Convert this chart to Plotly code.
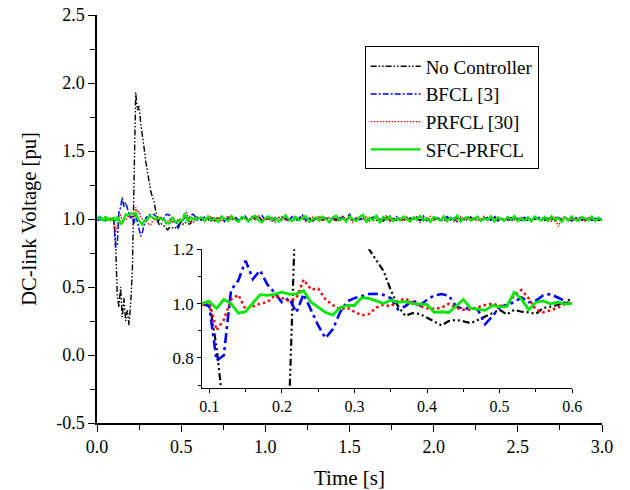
import plotly.graph_objects as go

# ---- time grid (s) ----
time_early = [round(0.01 * i, 2) for i in range(61)]          # 0.00 .. 0.60
time_late = [round(0.62 + 0.02 * i, 2) for i in range(120)]   # 0.62 .. 3.00
time = time_early + time_late

# ---- tick labels ----
y_ticks = [-0.5, 0.0, 0.5, 1.0, 1.5, 2.0, 2.5]
y_ticklabels = ["-0.5", "0.0", "0.5", "1.0", "1.5", "2.0", "2.5"]
x_ticks = [0.0, 0.5, 1.0, 1.5, 2.0, 2.5, 3.0]
x_ticklabels = ["0.0", "0.5", "1.0", "1.5", "2.0", "2.5", "3.0"]
inset_x_ticks = [0.1, 0.2, 0.3, 0.4, 0.5, 0.6]
inset_x_ticklabels = ["0.1", "0.2", "0.3", "0.4", "0.5", "0.6"]
inset_y_ticks = [0.8, 1.0, 1.2]
inset_y_ticklabels = ["0.8", "1.0", "1.2"]

# ---- No Controller ----
nc_pre = [1.0, 1.005, 0.995, 1.01, 0.99, 1.0, 1.008, 0.995, 1.0]
nc_mid = [1.0, 1.008, 0.84, 0.45, 0.35, 0.5, 0.28, 0.42, 0.25, 0.33,
          0.22, 0.38, 0.62, 1.45, 1.93, 1.8, 1.83, 1.7, 1.62, 1.52,
          1.42, 1.34, 1.26, 1.2, 1.16, 1.12, 1.05, 0.99, 0.955, 0.965,
          0.962, 0.948, 0.935, 0.92, 0.936, 0.94, 0.935, 0.928, 0.94, 0.952,
          0.965, 0.977, 0.96, 0.977, 0.97, 0.968, 0.962, 0.984, 0.989, 0.995,
          1.005, 1.02]
nc_late = [0.995, 1.01, 0.99, 1.005, 0.985, 1.012, 1.0, 0.99, 1.008, 0.995,
           1.015, 0.988, 1.0, 1.01, 0.985, 1.005, 0.995, 1.018, 0.99, 1.0,
           1.008, 0.985, 1.0, 1.012, 0.992, 1.005, 0.985, 1.01, 0.998, 0.99,
           1.012, 0.995, 1.005, 0.985, 1.01, 1.0, 0.99, 1.015, 0.995, 1.005,
           0.988, 1.01, 1.0, 0.99, 1.012, 0.985, 1.005, 0.995, 1.01, 0.99,
           1.005, 1.015, 0.99, 1.0, 0.985, 1.01, 0.995, 1.005, 0.99, 1.012,
           1.0, 0.985, 1.008, 0.995, 1.015, 0.99, 1.0, 1.01, 0.988, 1.005,
           0.995, 1.012, 0.99, 1.0, 1.008, 0.985, 1.01, 0.995, 1.005, 0.99,
           1.015, 0.995, 1.0, 0.988, 1.01, 1.0, 0.99, 1.012, 0.995, 1.005,
           0.985, 1.0, 1.01, 0.995, 1.005, 0.99, 1.012, 1.0, 0.985, 1.008,
           0.995, 1.01, 0.99, 1.005, 1.0, 0.985, 1.012, 0.995, 1.005, 0.99,
           1.01, 0.995, 1.0, 1.008, 0.99, 1.005, 0.995, 1.01, 0.99, 1.0]

# ---- BFCL [3] ----
bf_pre = [1.0, 0.99, 1.012, 0.995, 1.01, 0.985, 1.005, 1.0, 0.995]
bf_mid = [1.0, 0.99, 0.79, 0.81, 1.05, 1.085, 1.158, 1.09, 1.122, 1.07,
          1.04, 1.005, 1.02, 0.967, 1.035, 0.98, 0.92, 0.873, 0.905, 0.967,
          1.008, 1.02, 1.028, 1.035, 1.036, 1.032, 1.02, 0.979, 0.99, 1.014,
          0.993, 1.014, 1.03, 1.035, 1.029, 0.99, 0.98, 0.984, 0.978, 0.924,
          0.953, 0.987, 0.996, 1.005, 1.023, 1.005, 1.011, 1.03, 1.035, 1.023,
          1.01, 0.99]
bf_late = [0.99, 1.015, 1.0, 0.985, 1.012, 0.995, 1.02, 0.98, 1.008, 0.995,
           1.018, 0.99, 1.005, 1.022, 0.985, 1.0, 1.012, 0.992, 1.025, 0.988,
           1.005, 0.995, 1.015, 0.982, 1.01, 1.0, 0.99, 1.018, 0.985, 1.005,
           1.03, 0.99, 1.01, 0.985, 1.0, 1.015, 0.992, 1.008, 0.98, 1.012,
           1.0, 0.99, 1.02, 0.995, 1.038, 0.985, 1.005, 0.992, 1.015, 0.98,
           1.008, 0.995, 1.02, 0.99, 1.0, 1.012, 0.985, 1.005, 1.018, 0.99,
           0.995, 1.01, 0.982, 1.015, 1.0, 0.99, 1.022, 0.988, 1.005, 0.995,
           1.012, 0.985, 1.0, 1.018, 0.992, 1.008, 0.98, 1.01, 0.995, 1.02,
           0.99, 1.005, 1.015, 0.985, 1.0, 1.012, 0.99, 1.025, 0.985, 1.005,
           0.995, 1.01, 0.98, 1.015, 1.0, 0.99, 1.012, 0.985, 1.008, 0.995,
           1.02, 0.99, 1.005, 0.985, 1.012, 0.995, 1.018, 0.99, 1.0, 1.01,
           0.985, 1.005, 1.015, 0.99, 1.0, 1.012, 0.988, 1.005, 0.995, 1.0]

# ---- PRFCL [30] ----
pr_pre = [1.0, 1.01, 0.99, 1.005, 0.995, 1.015, 0.985, 1.0, 1.005]
pr_mid = [0.993, 1.008, 0.902, 0.94, 1.015, 1.032, 0.979, 0.99, 1.0, 1.005,
          1.03, 1.02, 1.01, 1.02, 1.088, 1.052, 1.055, 1.016, 0.995, 0.979,
          0.985, 0.97, 0.957, 0.962, 0.985, 0.996, 0.99, 1.01, 1.018, 1.005,
          0.99, 0.983, 0.98, 0.985, 0.999, 0.985, 0.977, 0.977, 0.985, 0.995,
          1.0, 0.992, 0.992, 1.03, 1.05, 1.02, 0.977, 0.968, 0.975, 0.984,
          0.999, 1.005]
pr_late = [1.01, 0.985, 1.005, 1.02, 0.99, 1.012, 0.98, 1.0, 1.025, 0.99,
           1.005, 0.975, 1.015, 1.0, 0.988, 1.02, 0.995, 1.03, 0.985, 1.005,
           0.99, 1.012, 0.978, 1.008, 1.018, 0.99, 1.0, 0.985, 1.022, 0.995,
           1.01, 0.98, 1.005, 1.015, 0.99, 1.025, 0.985, 1.0, 1.012, 0.99,
           1.005, 0.982, 1.018, 0.995, 1.008, 0.975, 1.01, 1.0, 0.99, 1.02,
           0.985, 1.005, 1.015, 0.99, 1.0, 1.028, 0.98, 1.01, 0.995, 1.005,
           0.99, 1.015, 0.985, 1.008, 1.0, 0.975, 1.012, 0.995, 1.02, 0.988,
           1.005, 0.99, 1.015, 0.98, 1.01, 1.0, 0.985, 1.018, 0.995, 1.005,
           0.99, 1.012, 0.985, 1.0, 1.02, 0.99, 1.008, 0.98, 1.015, 0.995,
           1.005, 0.988, 1.012, 1.0, 0.99, 1.018, 0.985, 1.005, 0.995, 1.01,
           1.0, 0.99, 1.015, 1.0, 0.985, 1.012, 0.945, 1.005, 1.02, 0.985,
           1.0, 1.01, 0.99, 1.005, 0.985, 1.015, 0.995, 1.0, 0.99, 1.005]

# ---- SFC-PRFCL ----
sf_pre = [1.0, 1.015, 0.99, 1.01, 0.985, 1.02, 0.995, 1.005, 0.99]
sf_mid = [1.0, 1.008, 0.982, 1.015, 1.0, 0.965, 0.97, 1.0, 1.033, 1.03,
          1.034, 1.042, 1.035, 1.036, 1.047, 1.006, 0.986, 0.968, 0.958, 0.985,
          0.993, 0.993, 1.022, 1.019, 1.01, 1.0, 1.012, 1.005, 1.007, 1.0,
          0.998, 0.996, 0.968, 0.97, 0.967, 0.99, 1.015, 0.983, 0.98, 0.975,
          0.993, 0.988, 0.99, 1.041, 1.017, 0.977, 1.005, 1.01, 0.999, 1.005,
          0.998, 1.001]
sf_late = [1.012, 0.985, 1.02, 0.99, 1.005, 0.978, 1.018, 1.0, 0.985, 1.022,
           0.995, 0.98, 1.015, 1.005, 0.982, 1.01, 1.025, 0.99, 0.975, 1.008,
           1.02, 0.992, 1.01, 0.98, 1.0, 1.028, 0.995, 0.985, 1.015, 0.99,
           1.005, 1.022, 0.978, 0.995, 1.012, 0.988, 1.018, 1.0, 0.975, 1.01,
           1.025, 0.99, 1.005, 0.98, 1.02, 0.998, 0.985, 1.015, 1.03, 0.975,
           1.01, 0.99, 1.028, 0.97, 1.015, 0.995, 1.02, 0.985, 1.005, 0.99,
           1.018, 1.0, 0.982, 1.012, 0.995, 1.022, 0.988, 1.005, 0.978, 1.015,
           1.0, 0.99, 1.02, 0.985, 1.01, 0.995, 1.025, 0.98, 1.005, 1.015,
           0.99, 1.0, 1.018, 0.985, 1.008, 0.992, 1.02, 0.98, 1.01, 1.0,
           0.988, 1.015, 0.995, 1.022, 0.985, 1.005, 0.99, 1.012, 0.982, 1.018,
           1.0, 0.99, 1.015, 0.985, 1.02, 0.995, 1.008, 0.98, 1.012, 0.99,
           1.02, 0.995, 0.985, 1.015, 1.0, 0.99, 1.018, 0.985, 1.01, 0.99]

series = [
    ("No Controller", nc_pre + nc_mid + nc_late, "black", "6px,2px,1.5px,2px,1.5px,2px", 1.4,
     "7px,3px,2px,3px,2px,3px", 2.2),
    ("BFCL [3]", bf_pre + bf_mid + bf_late, "#0000ff", "6px,2px,2px,2px", 1.5,
     "10px,4px,3px,4px", 2.6),
    ("PRFCL [30]", pr_pre + pr_mid + pr_late, "#ff0000", "1.5px,1.5px", 1.4,
     "2.5px,3px", 2.5),
    ("SFC-PRFCL", sf_pre + sf_mid + sf_late, "#00e600", "solid", 2.2,
     "solid", 2.8),
]

FONT = "Liberation Serif"
fig = go.Figure()

for name, vals, col, dash, w, dash_in, w_in in series:
    fig.add_trace(go.Scatter(x=time, y=vals, mode="lines", name=name,
                             legendgroup=name,
                             line=dict(color=col, dash=dash, width=w),
                             xaxis="x", yaxis="y"))

i0, i1 = 9, 61
for name, vals, col, dash, w, dash_in, w_in in series:
    fig.add_trace(go.Scatter(x=time[i0:i1], y=vals[i0:i1], mode="lines", name=name,
                             showlegend=False,
                             line=dict(color=col, dash=dash_in, width=w_in),
                             xaxis="x2", yaxis="y2"))

axis_common = dict(showgrid=False, zeroline=False, showline=True, linecolor="black",
                   ticks="outside", tickcolor="black", automargin=False,
                   tickfont=dict(family=FONT, size=18, color="black"))

fig.update_layout(
    width=630, height=490,
    margin=dict(l=97, r=28, t=15, b=67),
    paper_bgcolor="white", plot_bgcolor="white",
    font=dict(family=FONT, color="black"),
    xaxis=dict(**axis_common, range=[0, 3], tickmode="array",
               tickvals=x_ticks, ticktext=x_ticklabels,
               ticklen=7, linewidth=1.5, tickwidth=1.3,
               minor=dict(dtick=0.25, tick0=0, ticks="outside", ticklen=5, tickcolor="black"),
               title=dict(text="Time [s]", font=dict(family=FONT, size=21), standoff=14),
               domain=[0, 1]),
    yaxis=dict(**axis_common, range=[-0.5, 2.5], tickmode="array",
               tickvals=y_ticks, ticktext=y_ticklabels,
               ticklen=7, linewidth=1.5, tickwidth=1.3,
               minor=dict(dtick=0.25, tick0=0, ticks="outside", ticklen=5, tickcolor="black"),
               title=dict(text="DC-link Voltage [pu]", font=dict(family=FONT, size=20.5), standoff=14),
               domain=[0, 1]),
    xaxis2=dict(showgrid=False, zeroline=False, showline=True, linecolor="black", linewidth=1,
                range=[0.09, 0.6], tickmode="array", tickvals=inset_x_ticks,
                ticktext=inset_x_ticklabels, automargin=False,
                ticks="outside", ticklen=4, tickcolor="black",
                minor=dict(dtick=0.05, tick0=0, ticks="outside", ticklen=3, tickcolor="black"),
                tickfont=dict(family=FONT, size=16, color="black"),
                domain=[0.208, 0.941], anchor="y2"),
    yaxis2=dict(showgrid=False, zeroline=False, showline=True, linecolor="black", linewidth=1,
                range=[0.69, 1.2], tickmode="array", tickvals=inset_y_ticks,
                ticktext=inset_y_ticklabels, automargin=False,
                ticks="outside", ticklen=4, tickcolor="black",
                minor=dict(dtick=0.1, tick0=0, ticks="outside", ticklen=3, tickcolor="black"),
                tickfont=dict(family=FONT, size=17, color="black"),
                domain=[0.086, 0.426], anchor="x2"),
    legend=dict(x=0.53, y=0.923, xanchor="left", yanchor="top",
                bordercolor="black", borderwidth=1, bgcolor="white",
                font=dict(family=FONT, size=19, color="black"),
                itemwidth=50, tracegroupgap=0),
    showlegend=True,
)

fig.write_html("out.html")
